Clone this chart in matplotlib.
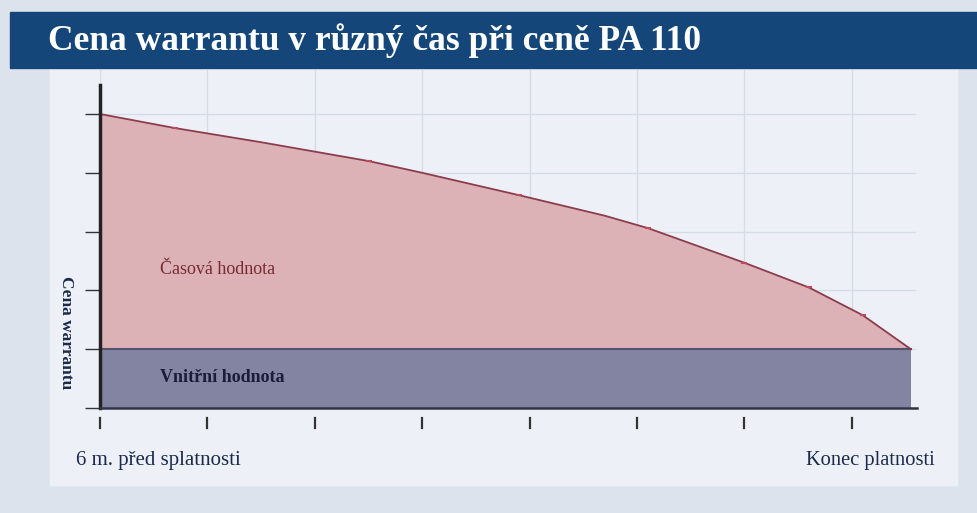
import matplotlib.pyplot as plt
from matplotlib.patches import Rectangle

# time axis (months, 0 = 6 m. before maturity) and warrant price
months = [0, 0.7, 1.5, 2.5, 3.0, 3.9, 4.7, 5.1, 6.0, 6.6, 7.1, 7.55]
price = [5.0, 4.76, 4.52, 4.2, 4.0, 3.62, 3.27, 3.06, 2.47, 2.05, 1.58, 1.0]
intrinsic = [1.0] * len(months)
marker_x = [0.7, 2.5, 3.9, 5.1, 6.0, 6.6, 7.1]
marker_y = [4.76, 4.2, 3.62, 3.06, 2.47, 2.05, 1.58]
xticks = [0, 1, 2, 3, 4, 5, 6, 7]
yticks = [0, 1, 2, 3, 4, 5]

W, H = 977, 513
fig = plt.figure(figsize=(W / 100, H / 100), dpi=100, facecolor='#dde3ec')

# inner panel and title bar
fig.patches.append(Rectangle((50 / W, 1 - 485 / H), 907 / W, 418 / H,
                             transform=fig.transFigure, color='#edf1f7', zorder=-2))
fig.patches.append(Rectangle((10 / W, 1 - 68 / H), 967 / W, 56 / H,
                             transform=fig.transFigure, color='#154679', zorder=-1))
fig.text(48 / W, 1 - 41 / H, 'Cena warrantu v různý čas při ceně PA 110',
         color='white', fontsize=25.5, fontweight='bold', family='Liberation Serif',
         va='center', ha='left')

ax = fig.add_axes([100 / W, 1 - 408 / H, 835 / W, 338 / H])
ax.set_zorder(3)
ax.set_facecolor('none')
ax.set_xlim(0, 835 / 107.4)
ax.set_ylim(0, 338 / 58.8)

ax.fill_between(months, 0, intrinsic, color='#8284a1', zorder=2, linewidth=0)
ax.fill_between(months, intrinsic, price, color='#dcb2b7', zorder=2, linewidth=0)
ax.plot(months, intrinsic, color='#505470', lw=1.5, zorder=3)
ax.plot(months, price, color='#8c3c4c', lw=1.3, zorder=3)
ax.plot(marker_x, marker_y, ls='none', marker='_', ms=5, mew=1.5,
        color='#c04a5c', zorder=4)

for x in xticks:
    ax.axvline(x, color='#d6dce6', lw=1, zorder=1)
for y in yticks[1:]:
    ax.plot([0, 815 / 107.4], [y, y], color='#d6dce6', lw=1, zorder=1)

# axis lines
ax.plot([0, 0], [0, 323 / 58.8], color='#222222', lw=2.5, zorder=5, clip_on=False)
ax.plot([0, 817 / 107.4], [0, 0], color='#333344', lw=1.8, zorder=5, clip_on=False)
for s in ax.spines.values():
    s.set_visible(False)

ax.set_yticks(yticks)
ax.set_yticklabels([])
ax.tick_params(axis='y', length=11, width=1.0, color='#333333', direction='out')
ax.set_xticks(xticks)
ax.set_xticklabels([])
ax.tick_params(axis='x', length=0)

# x tick marks sit a little below the axis line
for x in xticks:
    ax.plot([x, x], [-10 / 58.8, -20 / 58.8], color='#333333', lw=1.6,
            clip_on=False, zorder=5)

ax.text(60 / 107.4, 2.35, 'Časová hodnota', color='#7a2a33', fontsize=13,
        family='Liberation Serif', va='center', ha='left')
ax.text(60 / 107.4, 0.52, 'Vnitřní hodnota', color='#1c1c3a', fontsize=13,
        fontweight='bold', family='Liberation Serif', va='center', ha='left')

fig.text(66 / W, 1 - 333 / H, 'Cena warrantu', rotation=-90, color='#1c2a4a',
         fontsize=12.5, fontweight='bold', family='Liberation Serif',
         va='center', ha='center')
fig.text(76 / W, 1 - 460 / H, '6 m. před splatnosti', color='#1c2a4a',
         fontsize=15, family='Liberation Serif', va='center', ha='left')
fig.text(935 / W, 1 - 460 / H, 'Konec platnosti', color='#1c2a4a',
         fontsize=14.8, family='Liberation Serif', va='center', ha='right')

fig.savefig('out.png', dpi=100, facecolor=fig.get_facecolor())
